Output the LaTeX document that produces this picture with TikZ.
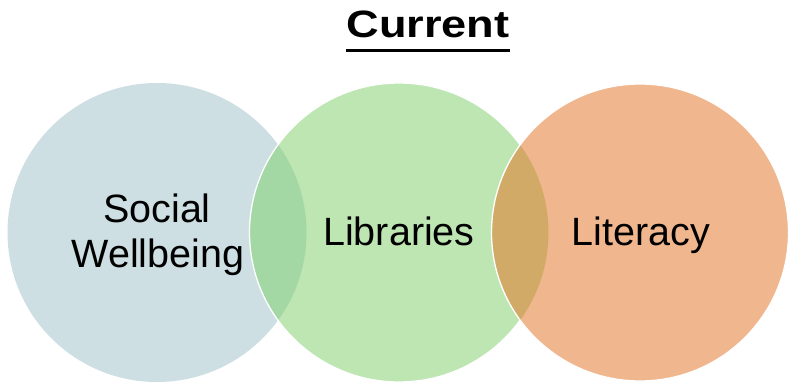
\documentclass[tikz,border=0pt]{standalone}
\usepackage{fontspec}
\setmainfont{Liberation Sans}
\usepackage{graphicx}
\definecolor{cblue}{HTML}{CDDFE3}
\definecolor{cgreen}{HTML}{BDE6B2}
\definecolor{corange}{HTML}{F0B68E}
\definecolor{lensA}{HTML}{A3D7A3}
\definecolor{lensB}{HTML}{D1AA68}
\tikzset{
  lbl/.style={anchor=base, inner sep=0pt, font=\fontsize{39.5}{45}\selectfont},
  edge/.style={draw=white, line width=1.3pt}
}
\begin{document}
\begin{tikzpicture}[x=1pt,y=-1pt]
\useasboundingbox (0,0) rectangle (789,382);
% circles
\coordinate (cA) at (157,232.5);
\coordinate (cB) at (399,232.5);
\coordinate (cC) at (640,232.5);
\fill[cblue] (cA) circle (149.5);
\fill[cgreen] (cB) circle (149.5);
\begin{scope}
  \clip (cA) circle (149.5);
  \fill[lensA] (cB) circle (149.5);
\end{scope}
\draw[edge] (cB) circle (149.5);
\fill[corange] (cC) circle (148.5);
\begin{scope}
  \clip (cB) circle (149.5);
  \fill[lensB] (cC) circle (148.5);
\end{scope}
\draw[edge] (cC) circle (148.5);
% labels
\node[lbl] (social) at (157,222) {Social};
\node[lbl] (well) at (158,267) {Wellbeing};
\node[lbl] (lib) at (399,245) {Libraries};
\node[lbl] (lit) at (641,245) {Literacy};
% title
\node[anchor=base, inner sep=0pt] (title) at (428,38)
  {\scalebox{1.22}[1.03]{\fontsize{37}{40}\selectfont\bfseries Current}};
\coordinate (ulL) at (title.west |- 0,51);
\coordinate (ulR) at (title.east |- 0,51);
\draw[line width=3pt] (ulL) -- (ulR);
\end{tikzpicture}
\end{document}
